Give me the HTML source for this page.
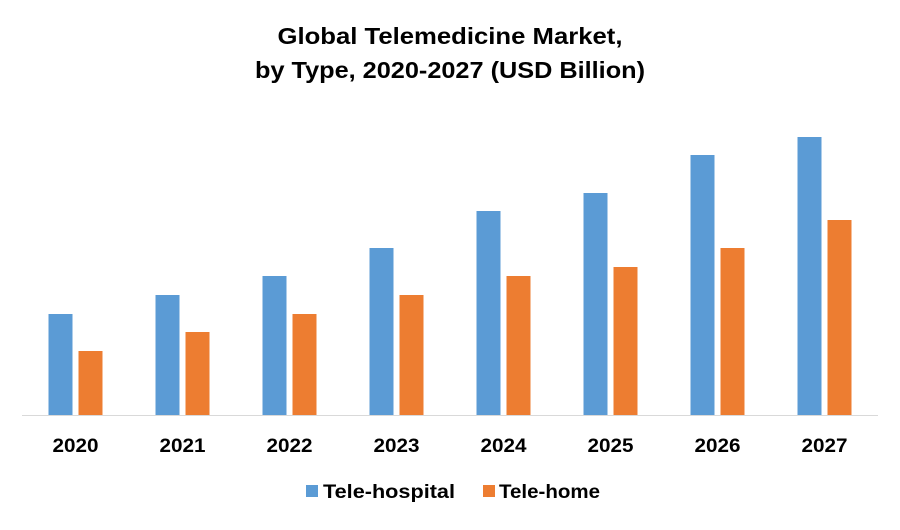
<!DOCTYPE html>
<html><head><meta charset="utf-8"><style>
body{margin:0;background:#fff;}
svg text{font-family:"Liberation Sans",sans-serif;font-weight:bold;fill:#000;}
</style></head><body>
<svg id="chart" width="900" height="525" xmlns="http://www.w3.org/2000/svg">
<rect width="900" height="525" fill="#fff"/>
<text x="450" y="44" text-anchor="middle" font-size="23" textLength="345" lengthAdjust="spacingAndGlyphs">Global Telemedicine Market,</text>
<text x="450" y="78" text-anchor="middle" font-size="23" textLength="390" lengthAdjust="spacingAndGlyphs">by Type, 2020-2027 (USD Billion)</text>
<g id="bars"></g>
<line x1="22" y1="415.5" x2="878" y2="415.5" stroke="#d9d9d9" stroke-width="1"/>
<g id="xlabels"></g>
<rect x="306" y="485" width="12" height="12" fill="#5b9bd5"/>
<text x="323" y="498" font-size="19" textLength="132" lengthAdjust="spacingAndGlyphs">Tele-hospital</text>
<rect x="483" y="485" width="12" height="12" fill="#ed7d31"/>
<text x="499" y="498" font-size="19" textLength="101" lengthAdjust="spacingAndGlyphs">Tele-home</text>
</svg>
<script>
const categories=["2020","2021","2022","2023","2024","2025","2026","2027"];
const teleHospital=[101,120,139,167,204,222,260,278];
const teleHome=[64,83,101,120,139,148,167,195];
const NS="http://www.w3.org/2000/svg";
const left=22,right=878,base=415,band=(right-left)/categories.length;
function xc(i){return left+band*(i+0.5);}
function y(v){return base-v;}
const bars=document.getElementById('bars'),xl=document.getElementById('xlabels');
categories.forEach((c,i)=>{
  [[teleHospital,'#5b9bd5',-27,'tele-hospital'],[teleHome,'#ed7d31',3,'tele-home']].forEach(([arr,col,off,nm])=>{
    const r=document.createElementNS(NS,'rect');
    r.setAttribute('x',xc(i)+off);r.setAttribute('width',24);
    r.setAttribute('y',y(arr[i]));r.setAttribute('height',base-y(arr[i]));
    r.setAttribute('fill',col);
    
    
    bars.appendChild(r);
  });
  const t=document.createElementNS(NS,'text');
  t.setAttribute('x',xc(i));t.setAttribute('y',452);t.setAttribute('text-anchor','middle');t.setAttribute('font-size','19');
  t.setAttribute('textLength','46');t.setAttribute('lengthAdjust','spacingAndGlyphs');
  t.textContent=c;
  
  
  xl.appendChild(t);
});
</script>
</body></html>
